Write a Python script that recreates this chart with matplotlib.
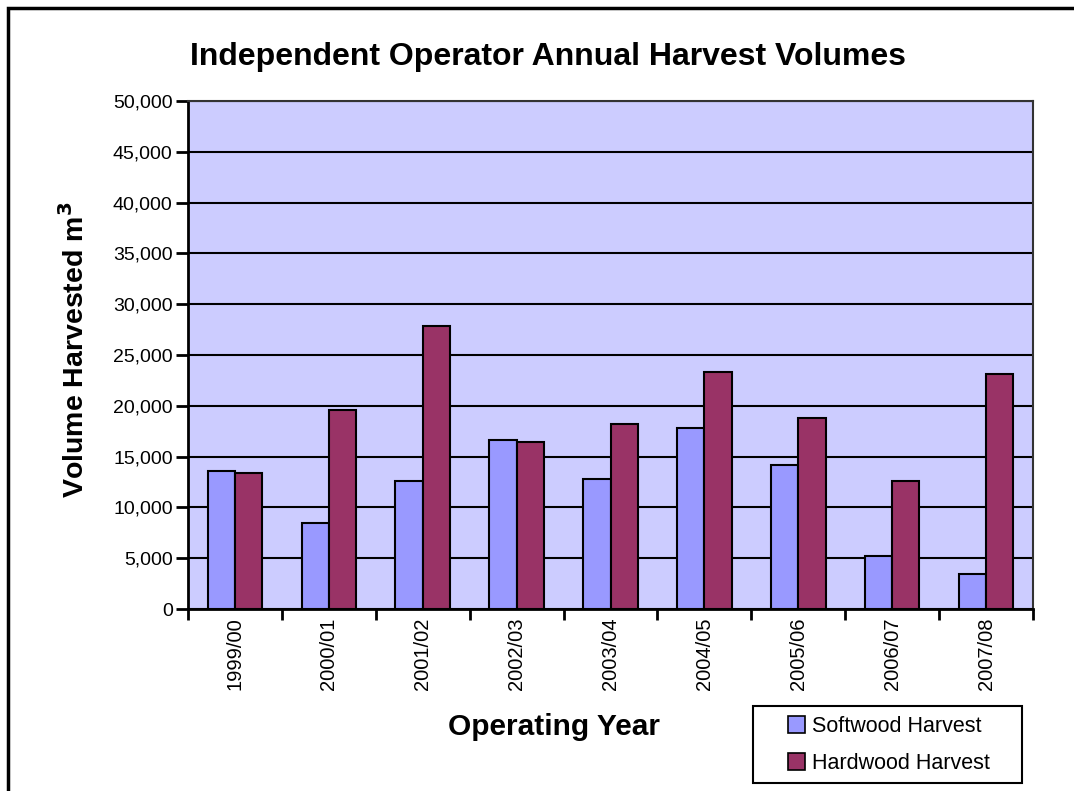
import matplotlib
matplotlib.use("Agg")
import matplotlib.pyplot as plt
import numpy as np
from matplotlib.patches import Rectangle

categories = ["1999/00", "2000/01", "2001/02", "2002/03", "2003/04",
              "2004/05", "2005/06", "2006/07", "2007/08"]
softwood = [13600, 8500, 12600, 16600, 12800, 17800, 14200, 5200, 3400]
hardwood = [13400, 19600, 27900, 16400, 18200, 23300, 18800, 12600, 23100]
y_ticks = list(range(0, 50001, 5000))

plt.rcParams['font.family'] = ['Liberation Sans', 'DejaVu Sans']

fig = plt.figure(figsize=(10.74, 7.91), dpi=100)
ax = fig.add_axes([188/1074, 1 - 609/791, (1033-188)/1074, (609-101)/791])

x = np.arange(len(categories))
w = 0.29
b1 = ax.bar(x - w/2, softwood, w, color="#9999FF", edgecolor="black", linewidth=1.5,
            label="Softwood Harvest", zorder=3)
b2 = ax.bar(x + w/2, hardwood, w, color="#993366", edgecolor="black", linewidth=1.5,
            label="Hardwood Harvest", zorder=3)

ax.set_facecolor("#CCCCFF")
ax.set_xlim(-0.5, len(categories) - 0.5)
ax.set_ylim(0, 50000)
ax.set_yticks(y_ticks)
ax.set_yticklabels([f"{v:,}" for v in y_ticks], fontsize=14)
ax.yaxis.grid(True, color="black", linewidth=1.5, zorder=1)
ax.set_axisbelow(True)

ax.set_xticks(x)
ax.set_xticklabels(categories, rotation=90, fontsize=14.5)
ax.set_xticks(np.arange(len(categories) + 1) - 0.5, minor=True)
ax.tick_params(axis='x', which='major', length=0, pad=6)
ax.tick_params(axis='x', which='minor', length=8, width=2, direction='out')
ax.tick_params(axis='y', length=9, width=2, pad=2)

for s in ['left', 'bottom']:
    ax.spines[s].set_linewidth(2)
    ax.spines[s].set_color('black')
for s in ['top', 'right']:
    ax.spines[s].set_linewidth(1.5)
    ax.spines[s].set_color('#333333')

fig.text(548/1074, 1 - 57/791, "Independent Operator Annual Harvest Volumes",
         ha='center', va='center', fontsize=23, fontweight='bold')
fig.text(554/1074, 1 - 727/791, "Operating Year",
         ha='center', va='center', fontsize=21.5, fontweight='bold')
fig.text(75/1074, 1 - 350/791, "Volume Harvested m$^\\mathbf{3}$",
         ha='center', va='center', fontsize=20.5, fontweight='bold', rotation=90)

# legend box
box = Rectangle((753/1074, 1 - 783/791), (1022-753)/1074, (783-706)/791,
                transform=fig.transFigure, fill=True, facecolor='white',
                edgecolor='black', linewidth=1.5, zorder=5)
fig.patches.append(box)
leg = fig.legend(handles=[b1, b2], labels=["Softwood Harvest", "Hardwood Harvest"],
                 loc='center', bbox_to_anchor=(889/1074, 1 - 745/791),
                 bbox_transform=fig.transFigure, fontsize=15.5,
                 frameon=False,
                 handlelength=0.8, handleheight=0.8, handletextpad=0.35,
                 borderaxespad=0, labelspacing=0.75, borderpad=0)
leg.set_zorder(6)
for h in leg.legend_handles:
    h.set_linewidth(1.2)

fig.patches.append(Rectangle((8/1074, -0.05), 1.1, 1 - 8/791 + 0.05,
                             transform=fig.transFigure, fill=False,
                             edgecolor='black', linewidth=2.5, zorder=7))

fig.savefig("out.png", dpi=100)
